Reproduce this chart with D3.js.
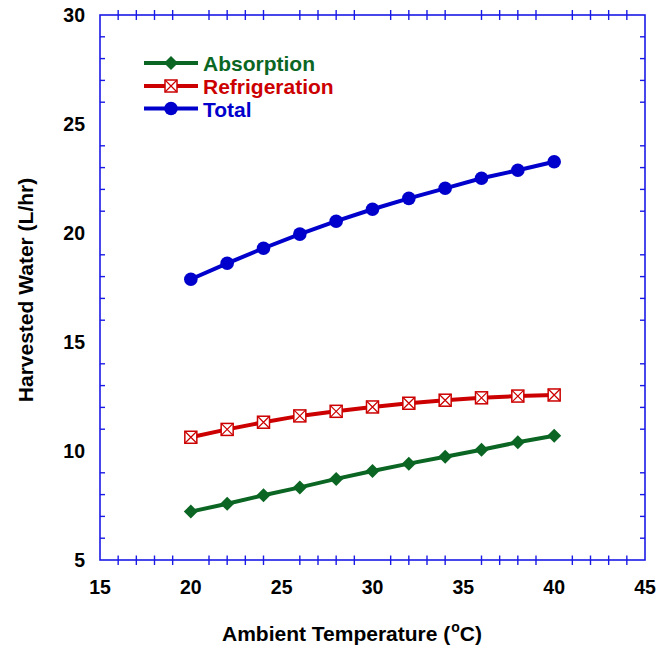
<!DOCTYPE html>
<html>
<head>
<meta charset="utf-8">
<script src="https://cdn.jsdelivr.net/npm/d3@7"></script>
<style>
  html, body { margin: 0; padding: 0; background: #fff; }
  svg { display: block; font-family: "Liberation Sans", Arial, Helvetica, sans-serif; }
</style>
</head>
<body>
<svg id="chart" width="670" height="648"></svg>
<script>
const temperatures = [20, 22, 24, 26, 28, 30, 32, 34, 36, 38, 40];
const absorption = [7.22, 7.58, 7.97, 8.33, 8.72, 9.08, 9.42, 9.74, 10.06, 10.40, 10.70];
const refrigeration = [10.63, 10.99, 11.32, 11.61, 11.82, 12.02, 12.19, 12.33, 12.44, 12.52, 12.57];
const total = [17.88, 18.61, 19.30, 19.95, 20.54, 21.09, 21.59, 22.05, 22.51, 22.88, 23.27];
const xTicks = [15, 20, 25, 30, 35, 40, 45];
const yTicks = [5, 10, 15, 20, 25, 30];
const seriesNames = ["Absorption", "Refrigeration", "Total"];
const xTitle = "Ambient Temperature (";
const yTitle = "Harvested Water (L/hr)";

const svg = d3.select("#chart");
const m = { left: 100, right: 645, top: 15, bottom: 560 };
const x = d3.scaleLinear().domain([15, 45]).range([m.left, m.right]);
const y = d3.scaleLinear().domain([5, 30]).range([m.bottom, m.top]);
const axisColor = "#1a1ae6";

const minorX = d3.range(15, 46).filter(v => v % 5 !== 0);
const minorY = d3.range(5, 31).filter(v => v % 5 !== 0);

// Frame
svg.append("rect").attr("x", m.left).attr("y", m.top)
  .attr("width", m.right - m.left).attr("height", m.bottom - m.top)
  .attr("fill", "none").attr("stroke", axisColor).attr("stroke-width", 1.6);

const tickG = svg.append("g").attr("stroke", axisColor).attr("stroke-width", 1.4);
minorX.forEach(v => {
  tickG.append("line").attr("x1", x(v)).attr("x2", x(v)).attr("y1", m.bottom - 4.5).attr("y2", m.bottom + 5);
  tickG.append("line").attr("x1", x(v)).attr("x2", x(v)).attr("y1", m.top - 5).attr("y2", m.top + 5);
});
minorY.forEach(v => {
  tickG.append("line").attr("x1", m.left).attr("x2", m.left + 5).attr("y1", y(v)).attr("y2", y(v));
  tickG.append("line").attr("x1", m.right - 5).attr("x2", m.right).attr("y1", y(v)).attr("y2", y(v));
});

// Tick labels
svg.append("g").selectAll("text").data(xTicks).join("text")
  .attr("x", d => x(d)).attr("y", 594)
  .attr("text-anchor", "middle").attr("font-size", 19.5).attr("font-weight", "bold")
  .attr("fill", "#000").text(d => d);
svg.append("g").selectAll("text").data(yTicks).join("text")
  .attr("x", 85).attr("y", d => y(d) + 7)
  .attr("text-anchor", "end").attr("font-size", 19.5).attr("font-weight", "bold")
  .attr("fill", "#000").text(d => d);

// Axis titles
const xt = svg.append("text").attr("x", 352).attr("y", 641)
  .attr("text-anchor", "middle").attr("font-size", 21).attr("font-weight", "bold").attr("fill", "#000");
xt.append("tspan").text(xTitle);
xt.append("tspan").attr("font-size", 14).attr("dy", -9).attr("dx", 1).text("o");
xt.append("tspan").attr("dy", 9).text("C)");

svg.append("text").attr("transform", "translate(33,290) rotate(-90)")
  .attr("text-anchor", "middle").attr("font-size", 21).attr("font-weight", "bold")
  .attr("fill", "#000").text(yTitle);

// Series
const colors = ["#0b6623", "#cc0000", "#0000cc"];
const data = [absorption, refrigeration, total];
const line = d3.line().x(d => x(d[0])).y(d => y(d[1]));

function drawMarker(g, kind, cx, cy, color) {
  if (kind === 0) {
    const r = 7;
    g.append("path").attr("d", `M${cx},${cy - r}L${cx + r},${cy}L${cx},${cy + r}L${cx - r},${cy}Z`)
      .attr("fill", color);
  } else if (kind === 1) {
    const h = 6;
    g.append("rect").attr("x", cx - h).attr("y", cy - h).attr("width", 2 * h).attr("height", 2 * h)
      .attr("fill", "#fff").attr("stroke", color).attr("stroke-width", 1.5);
    g.append("path").attr("d", `M${cx - h},${cy - h}L${cx + h},${cy + h}M${cx + h},${cy - h}L${cx - h},${cy + h}`)
      .attr("stroke", color).attr("stroke-width", 1.2);
  } else {
    g.append("circle").attr("cx", cx).attr("cy", cy).attr("r", 6.8).attr("fill", color);
  }
}

data.forEach((vals, i) => {
  const pts = temperatures.map((t, j) => [t, vals[j]]);
  svg.append("path").datum(pts).attr("d", line)
    .attr("fill", "none").attr("stroke", colors[i]).attr("stroke-width", 4);
  const g = svg.append("g");
  pts.forEach(p => drawMarker(g, i, x(p[0]), y(p[1]), colors[i]));
});

// Legend
const legY = [63, 86, 108.5];
seriesNames.forEach((name, i) => {
  svg.append("line").attr("x1", 144).attr("x2", 198).attr("y1", legY[i]).attr("y2", legY[i])
    .attr("stroke", colors[i]).attr("stroke-width", 4);
  drawMarker(svg.append("g"), i, 171, legY[i], colors[i]);
  svg.append("text").attr("x", 203).attr("y", legY[i] + 8)
    .attr("font-size", 21).attr("font-weight", "bold").attr("fill", colors[i]).text(name);
});
</script>
</body>
</html>
